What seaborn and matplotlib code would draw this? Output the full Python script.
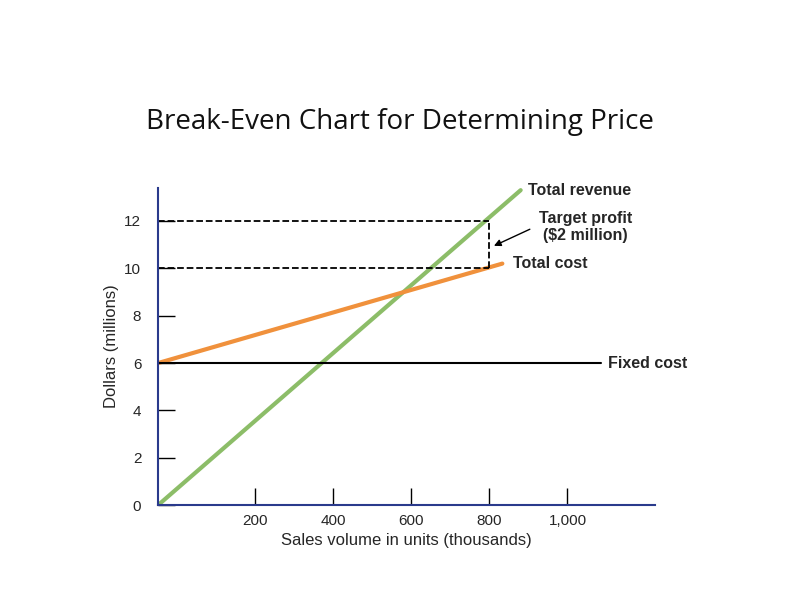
import matplotlib
matplotlib.use("Agg")
import matplotlib.pyplot as plt
import seaborn as sns

sns.set_style("white")
plt.rcParams['font.family'] = ['Liberation Sans', 'DejaVu Sans']

volume_start = [-50, 880]
revenue = [0, 13.3]
cost_x = [-50, 833]
cost = [6, 10.2]
fixed_x = [-50, 1085]
fixed = [6, 6]
xticks = [200, 400, 600, 800, 1000]
xlabels = ["200", "400", "600", "800", "1,000"]
yticks = [0, 2, 4, 6, 8, 10, 12]

fig = plt.figure(figsize=(8, 6), dpi=100)
ax = fig.add_axes([0.1975, 0.158, 0.6215, 0.529])
sns.lineplot(x=volume_start, y=revenue, color="#8cbd68", lw=3, ax=ax)
sns.lineplot(x=cost_x, y=cost, color="#f0913c", lw=3, ax=ax)
sns.lineplot(x=fixed_x, y=fixed, color="black", lw=1.5, ax=ax)
ax.plot([-50, 800], [12, 12], "k--", lw=1.3)
ax.plot([-50, 800], [10, 10], "k--", lw=1.3)
ax.plot([800, 800], [10, 12], "k--", lw=1.3)
ax.set_xlim(-50, 1225)
ax.set_ylim(0, 13.4)
ax.set_xticks(xticks, xlabels)
ax.set_yticks(yticks)
ax.tick_params(axis="both", direction="in", length=12, width=1, labelsize=11,
               color="black", bottom=True, left=True)
ax.tick_params(axis="y", pad=12)
ax.tick_params(axis="x", pad=6)
for s in ["top", "right"]:
    ax.spines[s].set_visible(False)
for s in ["left", "bottom"]:
    ax.spines[s].set_color("#2a3a8c")
    ax.spines[s].set_linewidth(1.5)
ax.set_xlabel("Sales volume in units (thousands)", fontsize=12)
ax.set_ylabel("Dollars (millions)", fontsize=12)
kw = dict(fontsize=11.5, fontweight="bold", va="center")
ax.text(900, 13.3, "Total revenue", **kw)
ax.text(860, 10.2, "Total cost", **kw)
ax.text(1105, 6, "Fixed cost", **kw)
ax.text(1046, 11.75, "Target profit\n($2 million)", fontsize=11.5, fontweight="bold",
        va="center", ha="center", linespacing=1.15)
ax.annotate("", xy=(805, 10.9), xytext=(910, 11.7),
            arrowprops=dict(arrowstyle="-|>", color="black", lw=1))
fig.text(0.5, 0.797, "Break-Even Chart for Determining Price", ha="center", va="center",
         fontsize=20, family="Open Sans", color="#111111")
fig.savefig("out.png")
